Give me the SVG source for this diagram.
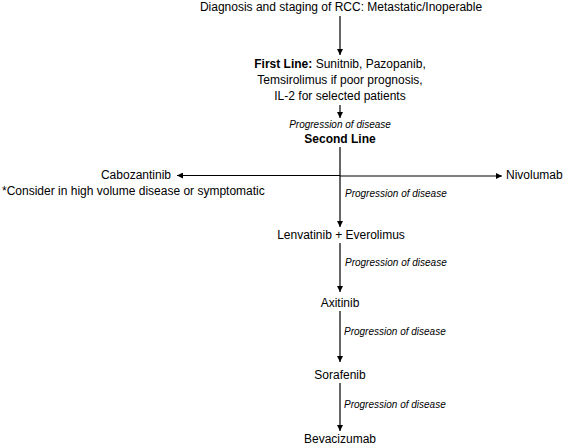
<svg xmlns="http://www.w3.org/2000/svg" width="567" height="447" viewBox="0 0 567 447">
<style>
text{font-family:"Liberation Sans",Arial,sans-serif;font-size:12px;fill:#000}
.c{text-anchor:middle}
.b{font-weight:bold}
.p{font-style:italic;font-size:10px}
.e{text-anchor:end}
line{stroke:#000;stroke-width:1.2}
</style>
<defs>
<marker id="ah" viewBox="0 0 8 8" refX="8" refY="4" markerWidth="6" markerHeight="6" orient="auto" markerUnits="userSpaceOnUse">
<path d="M0,0 L8,4 L0,8 z" fill="#000"/>
</marker>
</defs>
<rect width="567" height="447" fill="#fff"/>
<g id="connectors">
<line x1="340" y1="16" x2="340" y2="55" marker-end="url(#ah)"/>
<line x1="340" y1="105" x2="340" y2="118" marker-end="url(#ah)"/>
<line x1="340" y1="147" x2="340" y2="227" marker-end="url(#ah)"/>
<line x1="340" y1="175.5" x2="177" y2="175.5" stroke-width="1" marker-end="url(#ah)"/>
<line x1="340" y1="176" x2="502" y2="176" stroke-width="1" stroke="#555" marker-end="url(#ah)"/>
<line x1="340" y1="243" x2="340" y2="292" marker-end="url(#ah)"/>
<line x1="340" y1="311" x2="340" y2="362" marker-end="url(#ah)"/>
<line x1="340" y1="383" x2="340" y2="431" marker-end="url(#ah)"/>
</g>
<g id="diagnosis"><text class="c" x="341" y="11">Diagnosis and staging of RCC: Metastatic/Inoperable</text></g>
<g id="first-line">
<text class="c" x="340" y="68"><tspan class="b">First Line:</tspan> Sunitnib, Pazopanib,</text>
<text class="c" x="340" y="84">Temsirolimus if poor prognosis,</text>
<text class="c" x="340" y="100">IL-2 for selected patients</text>
</g>
<g id="label1"><text class="c p" x="340" y="128">Progression of disease</text></g>
<g id="second-line"><text class="c b" x="340" y="143">Second Line</text></g>
<g id="cabozantinib">
<text class="e" x="171" y="179">Cabozantinib</text>
<text x="2" y="195">*Consider in high volume disease or symptomatic</text>
</g>
<g id="nivolumab"><text x="506" y="179">Nivolumab</text></g>
<g id="label2"><text class="p" x="345" y="197">Progression of disease</text></g>
<g id="lenvatinib"><text class="c" x="341" y="239">Lenvatinib + Everolimus</text></g>
<g id="label3"><text class="p" x="345" y="266">Progression of disease</text></g>
<g id="axitinib"><text class="c" x="340" y="307">Axitinib</text></g>
<g id="label4"><text class="p" x="344" y="335">Progression of disease</text></g>
<g id="sorafenib"><text class="c" x="340" y="379">Sorafenib</text></g>
<g id="label5"><text class="p" x="344" y="408">Progression of disease</text></g>
<g id="bevacizumab"><text class="c" x="340" y="443">Bevacizumab</text></g>
</svg>
